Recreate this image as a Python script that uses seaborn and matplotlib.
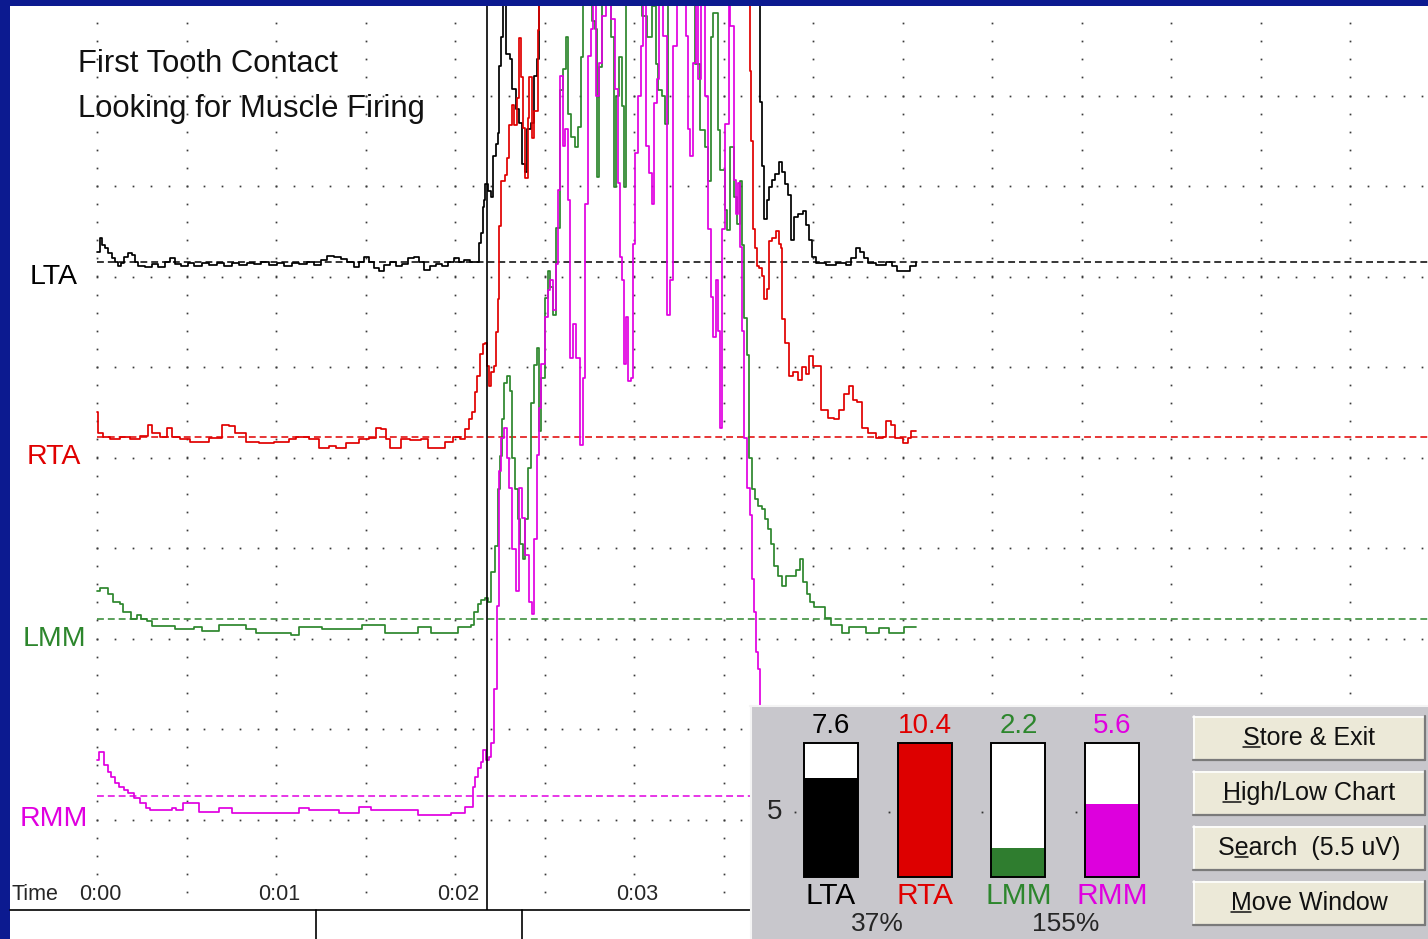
import numpy as np
import pandas as pd
import matplotlib
matplotlib.use("Agg")
import matplotlib.pyplot as plt
import seaborn as sns
from matplotlib.patches import Rectangle
from matplotlib.lines import Line2D

# ---------------- data (time in s, amplitude in uV above each channel baseline) -------------
lta_t = [0.000, 0.017, 0.028, 0.044, 0.061, 0.083, 0.100, 0.117, 0.133, 0.150, 0.172, 0.194, 0.211,
         0.228, 0.267, 0.306, 0.339, 0.378, 0.406, 0.433, 0.472, 0.506, 0.544, 0.589, 0.628, 0.672, 0.711, 0.756, 0.794, 0.839,
         0.878, 0.917, 0.961, 1.006, 1.044, 1.089, 1.128, 1.172, 1.211, 1.250, 1.283, 1.322, 1.361, 1.394, 1.433, 1.461, 1.494, 1.522, 1.550, 1.578,
         1.606, 1.639, 1.672, 1.706, 1.739, 1.772, 1.800, 1.828, 1.861, 1.894, 1.928, 1.961, 1.994, 2.022, 2.050, 2.083, 2.122, 2.133, 2.144, 2.156,
         2.161, 2.167, 2.183, 2.200, 2.211, 2.228, 2.239, 2.244, 2.256, 2.267, 2.283, 2.306, 2.317, 2.339, 2.356, 2.372, 2.389, 2.400, 2.422, 2.444, 2.456, 2.472,
         2.794, 3.239, 3.572,
         3.694, 3.706, 3.717, 3.728, 3.744, 3.756, 3.772, 3.789, 3.811, 3.828, 3.844, 3.861, 3.878, 3.894, 3.917, 3.944, 3.961, 3.978, 3.994, 4.017,
         4.072, 4.128, 4.183, 4.211, 4.239, 4.261, 4.283, 4.306, 4.350, 4.406, 4.444, 4.472, 4.517, 4.544, 4.578]
lta_v = [1.1, 2.7, 1.9, 1.6, 1.0, 0.4, 0.0, -0.4, -0.1, 0.6, 1.0, 0.8, 0.0,
         -0.4, -0.6, -0.2, -0.6, 0.0, 0.4, -0.2, -0.4, -0.1, -0.4, -0.1, -0.3, -0.1, -0.4, -0.1, -0.3, -0.1,
         -0.2, 0.0, -0.3, -0.1, -0.4, -0.1, -0.2, 0.0, -0.3, 0.2, 0.7, 0.6, 0.3, 0.0, -0.6, 0.0, 0.6, 0.0, -0.7, -1.0,
         -0.3, 0.0, -0.4, -0.2, 0.4, 0.6, 0.0, -0.9, -0.4, -0.2, -0.4, 0.0, 0.4, 0.0, 0.2, 0.0, 0.0, 2.1, 3.2, 6.1,
         6.9, 8.6, 7.8, 7.2, 11.7, 13.0, 14.3, 21.7, 24.9, 30.2, 23.0, 22.4, 19.1, 16.9, 15.4, 10.8, 9.9, 14.7, 15.4, 20.6, 22.4, 31.3,
         33.6, 35.8, 32.4,
         30.2, 17.7, 10.6, 4.7, 6.9, 8.3, 9.1, 9.7, 11.0, 10.0, 8.6, 7.4, 2.4, 5.0, 5.3, 5.6, 4.1, 2.4, 0.6, -0.1,
         -0.3, -0.1, -0.3, 0.4, 1.6, 1.1, 0.4, -0.1, -0.3, 0.0, -0.4, -1.0, -1.0, -0.4, 0.0]

rta_t = [0.000, 0.006, 0.033, 0.072, 0.128, 0.183, 0.239, 0.283, 0.306, 0.350, 0.389, 0.417, 0.461, 0.517, 0.572, 0.628,
         0.700, 0.739, 0.772, 0.833, 0.906, 0.989, 1.072, 1.111, 1.183, 1.239, 1.294, 1.333, 1.389, 1.461, 1.517, 1.556, 1.589, 1.617,
         1.639, 1.667, 1.700, 1.750, 1.811, 1.850, 1.906, 1.944, 1.989, 2.028, 2.056, 2.078, 2.094, 2.111, 2.122, 2.139, 2.156, 2.167,
         2.178, 2.189, 2.200, 2.217, 2.228, 2.239, 2.244, 2.256, 2.278, 2.289, 2.300, 2.317, 2.328, 2.344, 2.356, 2.367, 2.378, 2.389, 2.406, 2.411, 2.428, 2.444, 2.461, 2.472,
         2.906, 3.350,
         3.639, 3.650, 3.656, 3.667, 3.678, 3.689, 3.700, 3.717, 3.728, 3.744, 3.756, 3.772, 3.794, 3.811, 3.822, 3.828, 3.844, 3.867, 3.889, 3.917, 3.939, 3.961, 3.978, 4.000,
         4.022, 4.044, 4.083, 4.117, 4.144, 4.172, 4.200, 4.222, 4.244, 4.272, 4.306, 4.350, 4.389, 4.406, 4.433, 4.456, 4.478, 4.500, 4.528, 4.550, 4.578]
rta_v = [2.7, 0.4, 0.0, -0.3, 0.0, -0.3, 0.1, 1.3, 0.4, 0.0, 1.0, 0.0, -0.3, -0.6, -0.6, -0.1,
         1.3, 1.2, 0.4, -0.6, -0.7, -0.6, -0.3, 0.0, -0.3, -1.2, -1.0, -1.2, -0.7, -0.3, -0.1, 1.0, 0.9, -0.3,
         -1.2, -1.2, -0.3, -0.4, -0.3, -1.2, -1.2, -0.6, 0.0, -0.3, 0.8, 1.9, 2.7, 4.9, 6.7, 9.1, 10.2, 10.4,
         7.8, 5.6, 7.1, 7.8, 11.6, 15.2, 23.3, 28.2, 28.9, 30.8, 34.4, 36.7, 34.4, 37.4, 44.1, 39.7, 34.1, 28.6, 35.2, 39.7, 33.0, 36.0, 44.9, 50.8,
         54.1, 53.0,
         50.8, 40.4, 32.7, 23.0, 20.8, 18.9, 18.6, 17.8, 15.2, 16.3, 21.6, 21.9, 22.7, 21.3, 20.8, 13.0, 10.4, 6.7, 7.2, 6.3, 7.7, 6.9, 8.9, 7.8,
         7.8, 3.0, 2.1, 1.9, 3.0, 4.7, 5.6, 4.1, 3.8, 1.0, 0.4, -0.1, 0.0, 1.7, 1.3, -0.1, -0.1, -0.7, -0.1, 0.6, 0.6]

lmm_t = [0.000, 0.017, 0.044, 0.061, 0.089, 0.128, 0.144, 0.172, 0.189, 0.222, 0.244, 0.278, 0.306, 0.406, 0.433, 0.517, 0.544, 0.589, 0.667, 0.683,
         0.811, 0.833, 0.889, 1.056, 1.083, 1.117, 1.128, 1.239, 1.256, 1.444, 1.478, 1.589, 1.611, 1.778, 1.794, 1.850, 1.867, 2.000, 2.017, 2.089,
         2.106, 2.128, 2.144, 2.167, 2.183, 2.200, 2.222, 2.239, 2.250, 2.261, 2.272, 2.289, 2.306, 2.317, 2.333, 2.350, 2.361, 2.378, 2.389, 2.406,
         2.422, 2.439, 2.456, 2.467, 2.483, 2.500, 2.517, 2.533, 2.550, 2.567, 2.589, 2.606, 2.622, 2.633, 2.650, 2.672, 2.689, 2.706, 2.717, 2.744,
         2.767, 2.783, 2.794, 2.806, 2.822, 2.856, 2.872, 2.889, 2.900, 2.917, 2.933, 2.944, 2.956, 3.017, 3.044, 3.072, 3.100, 3.122, 3.133, 3.156,
         3.172, 3.189, 3.294, 3.339, 3.367, 3.394, 3.411, 3.428, 3.444, 3.467, 3.483, 3.506, 3.522, 3.539, 3.556, 3.578, 3.594, 3.606, 3.617, 3.633,
         3.644, 3.661, 3.678, 3.694, 3.717, 3.733, 3.750, 3.767, 3.783, 3.806, 3.828, 3.850, 3.878, 3.906, 3.928, 3.944, 3.967, 3.983, 4.006, 4.044,
         4.067, 4.100, 4.144, 4.161, 4.200, 4.278, 4.294, 4.350, 4.367, 4.406, 4.422, 4.489, 4.506, 4.578]
lmm_v = [3.0, 3.4, 3.4, 2.7, 1.8, 1.6, 0.7, 0.7, -0.1, 0.4, -0.1, -0.3, -0.8, -0.8, -1.2, -1.2, -0.9, -1.4, -1.4, -0.7,
         -0.7, -1.2, -1.6, -1.6, -1.8, -1.8, -0.9, -0.9, -1.2, -1.2, -0.7, -0.7, -1.6, -1.6, -0.9, -0.9, -1.6, -1.6, -0.9, -0.7,
         0.7, 1.6, 2.1, 2.3, 1.8, 5.1, 8.0, 14.3, 18.0, 22.1, 26.0, 26.8, 25.2, 17.7, 14.3, 11.0, 8.2, 6.6, 11.0, 16.6,
         23.8, 28.0, 29.9, 20.7, 26.6, 35.4, 38.4, 36.6, 33.6, 43.2, 58.4, 60.7, 64.3, 55.8, 53.2, 52.1, 54.3, 62.1, 71.0, 72.1,
         66.0, 65.1, 48.8, 61.0, 71.0, 71.0, 64.3, 47.7, 57.7, 62.1, 56.6, 47.7, 71.0, 71.0, 66.6, 64.3, 67.7, 61.3, 58.4, 57.7,
         54.7, 71.0, 71.0, 61.3, 54.0, 52.1, 48.4, 64.3, 66.9, 54.0, 49.6, 45.1, 42.9, 52.1, 46.6, 43.6, 48.4, 41.3, 33.2, 29.1,
         17.7, 14.3, 13.2, 12.4, 12.1, 11.0, 9.9, 8.2, 5.8, 4.7, 3.6, 4.7, 4.7, 5.4, 6.6, 4.0, 2.7, 1.8, 1.3, 1.3,
         0.1, -0.7, -0.7, -1.6, -0.9, -0.9, -1.6, -1.6, -1.0, -1.0, -1.6, -1.6, -0.9, -0.9]

rmm_t = [0.000, 0.011, 0.022, 0.039, 0.061, 0.078, 0.100, 0.122, 0.150, 0.172, 0.206, 0.239, 0.272, 0.294, 0.389, 0.417, 0.444, 0.478, 0.556, 0.572,
         0.667, 0.683, 0.739, 0.756, 1.072, 1.128, 1.167, 1.183, 1.333, 1.350, 1.444, 1.461, 1.517, 1.533, 1.778, 1.794, 1.961, 1.978, 2.033, 2.056, 2.089,
         2.100, 2.111, 2.128, 2.144, 2.156, 2.172, 2.189, 2.200, 2.217, 2.233, 2.244, 2.256, 2.272, 2.289, 2.300, 2.317, 2.339, 2.356, 2.372,
         2.389, 2.411, 2.428, 2.439, 2.456, 2.467, 2.483, 2.500, 2.517, 2.533, 2.550, 2.567, 2.578, 2.589, 2.606, 2.617, 2.633, 2.644, 2.661, 2.678,
         2.700, 2.717, 2.728, 2.744, 2.761, 2.772, 2.789, 2.806, 2.822, 2.844, 2.872, 2.894, 2.911, 2.922, 2.933, 2.944, 2.956, 2.967, 2.983, 2.994,
         3.006, 3.022, 3.039, 3.050, 3.067, 3.083, 3.100, 3.111, 3.128, 3.139, 3.161, 3.183, 3.200, 3.217, 3.239, 3.272, 3.289, 3.300, 3.311, 3.328,
         3.344, 3.356, 3.372, 3.394, 3.411, 3.428, 3.444, 3.456, 3.472, 3.483, 3.494, 3.511, 3.528, 3.539, 3.556, 3.572, 3.583, 3.594, 3.606, 3.617,
         3.633, 3.650, 3.661, 3.672, 3.683, 3.694, 3.706]
rmm_v = [4.0, 4.9, 4.9, 3.4, 2.7, 2.1, 1.4, 1.0, 0.7, 0.3, -0.2, -0.8, -1.3, -1.6, -1.6, -1.3, -1.6, -0.8, -0.8, -1.8,
         -1.8, -1.3, -1.3, -1.9, -1.9, -1.3, -1.3, -1.6, -1.6, -1.9, -1.9, -1.2, -1.2, -1.6, -1.6, -2.1, -2.1, -1.9, -1.9, -1.2, -1.2,
         1.0, 2.1, 3.1, 3.8, 5.1, 4.0, 4.3, 5.9, 11.8, 21.0, 35.9, 39.6, 40.7, 37.3, 34.0, 27.3, 22.6, 34.0, 30.7,
         26.6, 21.4, 20.1, 28.4, 37.7, 42.9, 47.7, 52.9, 55.9, 57.0, 53.7, 58.8, 67.0, 79.6, 71.8, 73.7, 65.9, 48.4, 52.1, 48.4,
         38.8, 46.2, 65.4, 81.8, 84.8, 90.7, 77.3, 81.0, 86.2, 90.7, 85.9, 78.1, 67.7, 59.6, 57.0, 47.7, 52.9, 45.9, 46.2, 61.0,
         71.0, 77.3, 82.9, 90.7, 71.8, 68.8, 65.4, 76.6, 79.2, 90.7, 84.0, 53.2, 57.0, 82.9, 90.7, 90.7, 84.0, 73.7, 70.7, 81.0,
         90.7, 79.2, 90.7, 77.3, 62.6, 55.1, 50.7, 57.0, 51.4, 40.7, 62.6, 74.3, 87.7, 85.1, 68.1, 64.3, 67.7, 60.7, 51.4, 39.6,
         34.0, 31.0, 24.0, 20.3, 15.9, 14.0, 8.4]

channels = ["LTA", "RTA", "LMM", "RMM"]
colors = ["#000000", "#e00000", "#2d862d", "#e000e0"]
bar_colors = ["#000000", "#dd0000", "#2f7d2f", "#dd00dd"]
bar_values = [7.6, 10.4, 2.2, 5.6]
bar_scale_max = 10.3
bar_ref = 5
pair_percent = ["37%", "155%"]
time_ticks = [0, 1, 2, 3]
time_labels = ["0:00", "0:01", "0:02", "0:03"]
cursor_time = 2.178
title_lines = ["First Tooth Contact", "Looking for Muscle Firing"]
buttons = ["Store & Exit", "High/Low Chart", "Search  (5.5 uV)", "Move Window"]
button_underline = [0, 0, 1, 0]

# ---------------- layout constants ----------------
W, H = 1428, 939
NAVY = "#0c1a90"
PX_PER_S = 179.0
X0 = -87 / PX_PER_S
XMAX = 1331 / PX_PER_S
offsets = {"LTA": 7.16, "RTA": 5.23, "LMM": 3.22, "RMM": 1.26}   # baseline, grid divisions
uv_per_div = 10.0
label_rows = {"LTA": 7.0, "RTA": 5.0, "LMM": 3.0, "RMM": 1.0}

sns.set_style("white")
plt.rcParams["font.family"] = ["Liberation Sans", "DejaVu Sans"]

fig = plt.figure(figsize=(W / 100, H / 100), dpi=100, facecolor=NAVY)
ax = fig.add_axes([10 / W, 29 / H, 1418 / W, 904 / H])
ax.set_facecolor("white")
for s in ax.spines.values():
    s.set_visible(False)
ax.set_xticks([])
ax.set_yticks([])

# dotted grid
col_t = np.arange(0, XMAX, 0.5)
col_y = np.arange(0.2, 9.9, 0.2)
gx, gy = np.meshgrid(col_t, col_y)
ax.plot(gx.ravel(), gy.ravel(), ls="none", marker="s", ms=1.25, mfc="#3a3a3a", mec="none", zorder=1)
row_t = np.arange(0, XMAX, 0.1)
row_y = np.arange(1, 10, 1)
rx, ry = np.meshgrid(row_t, row_y)
ax.plot(rx.ravel(), ry.ravel(), ls="none", marker="s", ms=1.25, mfc="#3a3a3a", mec="none", zorder=1)

# baselines
for ch, c in zip(channels, colors):
    ax.plot([0, XMAX], [offsets[ch]] * 2, ls=(0, (4.5, 2.6)), lw=1.1, color=c, zorder=2)

# traces
series = {"LTA": (lta_t, lta_v), "RTA": (rta_t, rta_v), "LMM": (lmm_t, lmm_v), "RMM": (rmm_t, rmm_v)}
frames = []
for ch in channels:
    t, v = series[ch]
    d = pd.DataFrame({"t": t, "uv": v})
    d["channel"] = ch
    d["y"] = offsets[ch] + d["uv"] / uv_per_div
    frames.append(d)
df = pd.concat(frames, ignore_index=True)
sns.lineplot(data=df, x="t", y="y", hue="channel", hue_order=channels, palette=colors,
             estimator=None, sort=False, drawstyle="steps-post", legend=False, lw=1.25, ax=ax, zorder=3)
ax.set_xlim(X0, XMAX)
ax.set_ylim(0, 904 / 90.5)
ax.set_xlabel("")
ax.set_ylabel("")

ax.axvline(cursor_time, color="black", lw=1.2, zorder=4)

# labels
for ch, c in zip(channels, colors):
    ax.text(-0.24, label_rows[ch], ch, color=c, fontsize=20.5, ha="center", va="center", zorder=5)
for i, line in enumerate(title_lines):
    ax.text(-0.106, 9.35 - 0.5 * i, line, fontsize=22.3, ha="left", va="center", color="#111111", zorder=5)
ax.text(-0.475, 0.166, "Time", fontsize=15.5, ha="left", va="center", zorder=5,
        bbox=dict(fc="white", ec="none", pad=1))
for tt, lab in zip(time_ticks, time_labels):
    ax.text(tt + 0.018, 0.166, lab, fontsize=15.5, ha="center", va="center", zorder=5,
            bbox=dict(fc="white", ec="none", pad=1))

# ---------------- overlay (pixel coordinates) ----------------
ov = fig.add_axes([0, 0, 1, 1])
ov.set_xlim(0, W)
ov.set_ylim(H, 0)
ov.axis("off")
ov.patch.set_alpha(0)
ov.add_patch(Rectangle((10, 910), W - 10, 29, fc="white", ec="none"))
ov.plot([10, 750], [910, 910], color="black", lw=1.2)
for xv in (316, 522):
    ov.plot([xv, xv], [910, 939], color="black", lw=1.2)

# gray panel
ov.add_patch(Rectangle((750, 705), W - 750, 234, fc="#c8c7cc", ec="none"))
ov.plot([750, W], [706, 706], color="#f4f4f4", lw=1.5)
ov.plot([751, 751], [706, H], color="#f4f4f4", lw=1.5)

# buttons
btn_texts = []
for i, lab in enumerate(buttons):
    y0 = 716 + 55 * i
    ov.add_patch(Rectangle((1193, y0), 232, 44, fc="#ece9d8", ec="none"))
    ov.plot([1193, 1425], [y0 + 0.5, y0 + 0.5], color="white", lw=1.2)
    ov.plot([1193.5, 1193.5], [y0, y0 + 44], color="white", lw=1.2)
    ov.plot([1193, 1425], [y0 + 43.5, y0 + 43.5], color="#7a7a7a", lw=1.6)
    ov.plot([1424.5, 1424.5], [y0, y0 + 44], color="#7a7a7a", lw=1.6)
    tx = ov.text(1309, y0 + 22, lab, fontsize=18, ha="center", va="center", color="#111111")
    btn_texts.append(tx)

# ---------------- bar meters ----------------
axb = fig.add_axes([784 / W, (H - 877) / H, 375 / W, 134 / H])
axb.patch.set_alpha(0)
pos = np.arange(len(channels))
axb.bar(pos, [bar_scale_max] * len(channels), width=0.576, color="white", edgecolor="none", zorder=1)
sns.barplot(x=channels, y=bar_values, hue=channels, palette=bar_colors, width=0.576,
            legend=False, ax=axb, zorder=2, edgecolor="none", saturation=1)
axb.bar(pos, [bar_scale_max] * len(channels), width=0.576, fill=False, edgecolor="black",
        lw=1.4, zorder=3, clip_on=False)
axb.set_xlim(-0.5, 3.5)
axb.set_ylim(0, bar_scale_max)
axb.axis("off")
for i, (ch, v, c) in enumerate(zip(channels, bar_values, colors)):
    axb.text(i, bar_scale_max + 1.3, f"{v}", color=c, fontsize=20, ha="center", va="center", clip_on=False)
    axb.text(i, -1.45, ch, color=c, fontsize=21.5, ha="center", va="center", clip_on=False)
    axb.plot([i - 0.384], [bar_ref], ls="none", marker="s", ms=1.3, mfc="#333333", mec="none", clip_on=False)
axb.text(-0.6, bar_ref, str(bar_ref), fontsize=20, ha="center", va="center", clip_on=False)
for xp, p in zip([0.5, 2.5], pair_percent):
    axb.text(xp, -3.6, p, fontsize=19, ha="center", va="center", clip_on=False)

# underline accelerator letters on buttons
fig.canvas.draw()
r = fig.canvas.get_renderer()


def text_width(sub, size):
    if not sub:
        return 0.0
    t = fig.text(0, 0, sub, fontsize=size)
    w = t.get_window_extent(r).width
    t.remove()
    return w


for tx, idx in zip(btn_texts, button_underline):
    s = tx.get_text()
    bb = tx.get_window_extent(r)
    x0 = bb.x0 + text_width(s[:idx], tx.get_fontsize())
    x1 = bb.x0 + text_width(s[:idx + 1], tx.get_fontsize())
    yb = bb.y0 + 3.5
    fig.add_artist(Line2D([x0 / W, x1 / W], [yb / H, yb / H], color="#111111", lw=1.1,
                          transform=fig.transFigure))

fig.savefig("out.png", dpi=100, facecolor=fig.get_facecolor())
